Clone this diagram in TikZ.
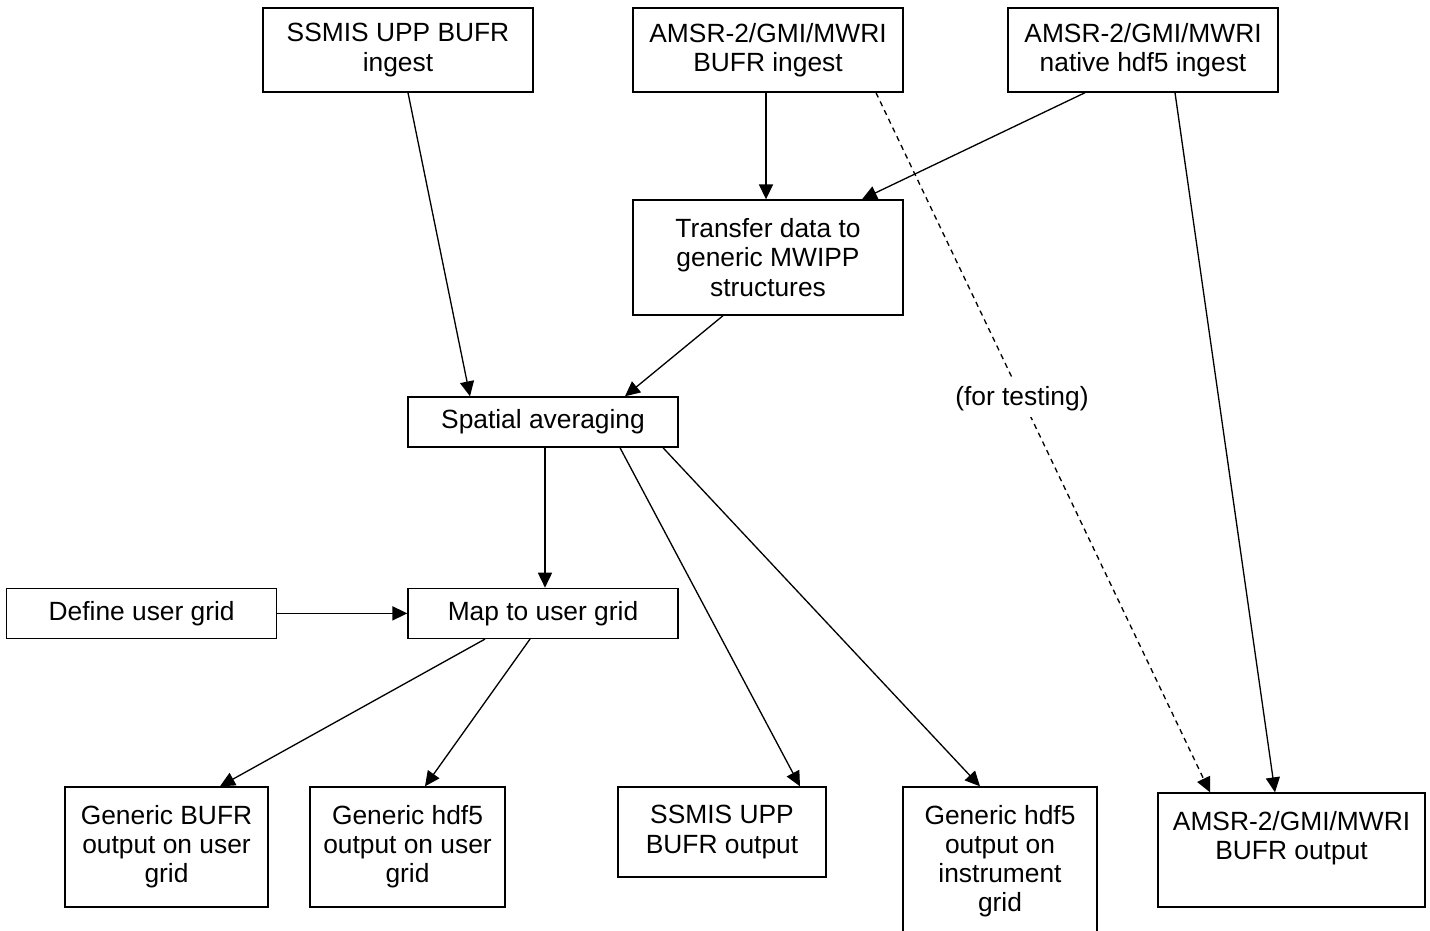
\documentclass[tikz,border=0pt]{standalone}
\usepackage{fontspec}
\setmainfont{Liberation Sans}
\usepackage{tikz}
\usetikzlibrary{arrows.meta,positioning}

\begin{document}
\begin{tikzpicture}[x=0.02cm,y=-0.02cm,
    box/.style={draw, line width=0.8pt, align=center, inner sep=2pt,
      font=\fontsize{15}{16.6}\selectfont},
    wide/.style={box, minimum width=5.4cm},
    arr/.style={line width=0.75pt, -{Triangle[length=8.5pt,width=8pt]}}]
          \useasboundingbox (0,0) rectangle (1430,930);
          % ingest
          \node[wide, minimum height=1.68cm] (ssmisin) at (398,50) {SSMIS UPP BUFR\\ingest};
          \node[wide, minimum height=1.68cm] (amsrin) at (768,50) {AMSR-2/GMI/MWRI\\BUFR ingest};
          \node[wide, minimum height=1.68cm] (hdfin) at (1143,50) {AMSR-2/GMI/MWRI\\native hdf5 ingest};
          \node[wide, minimum height=2.3cm] (transfer) at (768,257.5) {Transfer data to\\generic MWIPP\\structures};
          \node[wide, minimum height=1cm] (spatial) at (543,422) {Spatial averaging};
          \node[wide, minimum height=1cm] (map) [below=2.8cm of spatial] {Map to user grid};
          \node[wide, minimum height=1cm] (define) [left=2.6cm of map] {Define user grid};
          % output
          \node[box, minimum width=4.06cm, minimum height=2.4cm] (genbufr) at (166.5,847) {Generic BUFR\\output on user\\grid};
          \node[box, minimum width=3.9cm, minimum height=2.4cm] (genhdf) at (407.5,847) {Generic hdf5\\output on user\\grid};
          \node[box, minimum width=4.16cm, minimum height=1.8cm] (ssmisout) at (722,832) {SSMIS UPP\\BUFR output};
          \node[box, minimum width=3.88cm, minimum height=2.96cm] (geninst) at (1000,861) {Generic hdf5\\output on\\instrument\\grid};
          \node[box, minimum width=5.34cm, minimum height=2.28cm] (amsrout) at (1291.5,850) {AMSR-2/GMI/MWRI\\BUFR output\\\mbox{}};
          \path[arr] ([xshift=0.2cm]ssmisin.south) edge ([xshift=-1.46cm]spatial.north)
                     ([xshift=-0.04cm]amsrin.south) edge ([xshift=-0.04cm]transfer.north)
                     ([xshift=-1.16cm]hdfin.south) edge ([xshift=1.88cm]transfer.north)
                     ([xshift=-0.9cm]transfer.south) edge ([xshift=1.64cm]spatial.north)
                     ([xshift=0.64cm]hdfin.south) edge ([xshift=-0.33cm]amsrout.north)
                     ([xshift=2.16cm]amsrin.south) edge[dash pattern=on 3pt off 2.5pt] node[fill=white, font=\fontsize{15}{16.6}\selectfont, pos=0.437] (test) {(for testing)} ([xshift=-1.63cm]amsrout.north)
                     ([xshift=0.04cm]spatial.south) edge ([xshift=0.04cm]map.north)
                     ([xshift=1.54cm]spatial.south) edge ([xshift=1.56cm]ssmisout.north)
                     ([xshift=2.4cm]spatial.south) edge ([xshift=-0.4cm]geninst.north)
                     (define) edge (map)
                     ([xshift=-1.16cm]map.south) edge ([xshift=1.07cm]genbufr.north)
                     ([xshift=-0.26cm]map.south) edge ([xshift=0.35cm]genhdf.north);
        \end{tikzpicture}
\end{document}
